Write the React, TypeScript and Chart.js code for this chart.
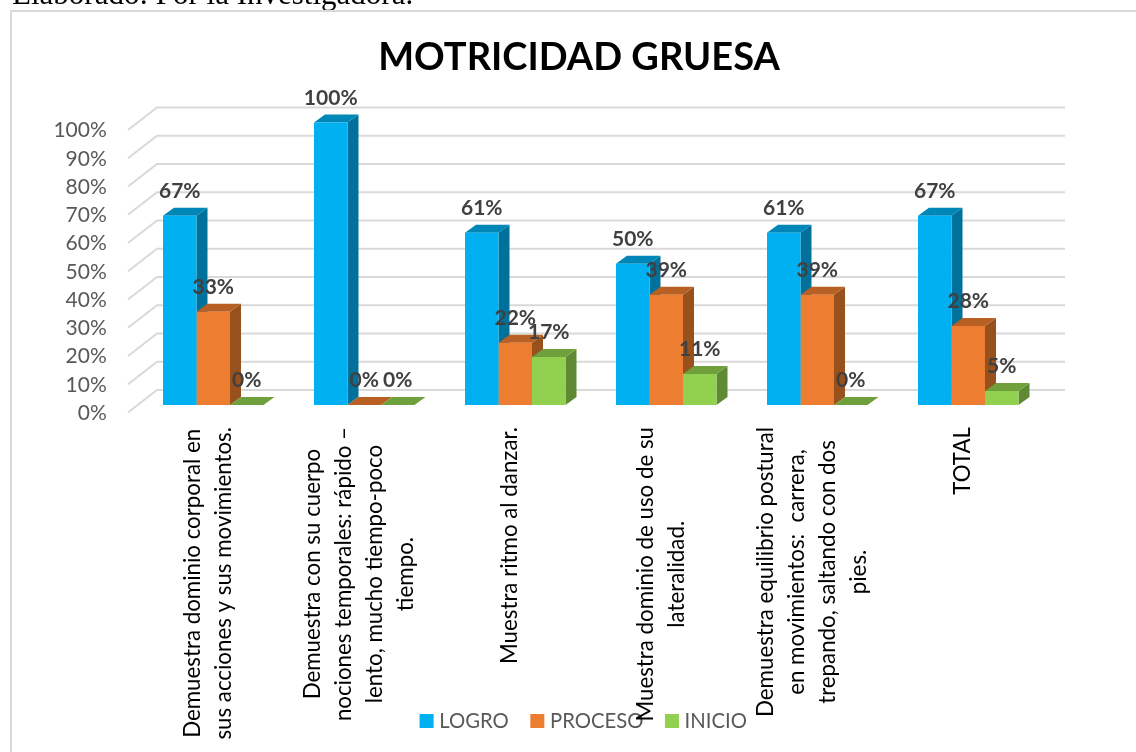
import React, { useEffect, useRef } from "react";
import { Chart, registerables } from "chart.js";

Chart.register(...registerables);

const categories: string[][] = [
  ["Demuestra dominio corporal en", "sus acciones y sus movimientos."],
  ["Demuestra con su cuerpo", "nociones temporales: rápido –", "lento, mucho tiempo-poco", "tiempo."],
  ["Muestra ritmo al danzar."],
  ["Muestra dominio de uso de su", "lateralidad."],
  ["Demuestra equilibrio postural", "en movimientos:  carrera,", "trepando, saltando con dos", "pies."],
  ["TOTAL"],
];
const logro = [67, 100, 61, 50, 61, 67];
const proceso = [33, 0, 22, 39, 39, 28];
const inicio = [0, 0, 17, 11, 0, 5];
const yTicks = [0, 10, 20, 30, 40, 50, 60, 70, 80, 90, 100];
const chartTitle = "MOTRICIDAD GRUESA";
const caption = "Elaborado: Por la Investigadora.";

const FONT = "Lato";
const DEPTH_X = 11;
const DEPTH_Y = 8;
const faceColors = [
  { top: "#0087B8", side: "#00719B" },
  { top: "#B85F24", side: "#98501C" },
  { top: "#70A03C", side: "#5F8A33" },
];

const chart3d = {
  id: "chart3d",
  afterLayout(chart: any) {
    const lg = chart.legend;
    if (lg) {
      const dx = 585.5 - (lg.left + lg.right) / 2;
      const dy = 684.85 - lg.top;
      lg.left += dx; lg.right += dx; lg.top += dy; lg.bottom += dy;
    }
    const t = chart.titleBlock;
    if (t) {
      const dx = 579 - (t.left + t.right) / 2;
      t.left += dx; t.right += dx;
    }
  },
  beforeDraw(chart: any) {
    const { ctx } = chart;
    ctx.save();
    ctx.fillStyle = "#000";
    ctx.font = "31px 'Liberation Serif'";
    ctx.textBaseline = "alphabetic";
    ctx.fillText(caption, 12, 4);
    ctx.strokeStyle = "#D9D9D9";
    ctx.lineWidth = 2;
    ctx.strokeRect(11, 11, 1135, 760);
    ctx.restore();
  },
  beforeDatasetsDraw(chart: any) {
    const { ctx, scales } = chart;
    const y = scales.y;
    ctx.save();
    ctx.strokeStyle = "#D9D9D9";
    ctx.lineWidth = 2;
    for (const v of yTicks) {
      const p = y.getPixelForValue(v);
      ctx.beginPath();
      ctx.moveTo(128, p + 7.5);
      ctx.lineTo(157, p - 15);
      ctx.lineTo(1065, p - 15);
      ctx.stroke();
    }
    chart.data.datasets.forEach((_: any, i: number) => {
      const meta = chart.getDatasetMeta(i);
      const c = faceColors[i];
      meta.data.forEach((bar: any) => {
        const l = bar.x - bar.width / 2;
        const r = bar.x + bar.width / 2;
        const t = bar.y;
        const b = bar.base;
        ctx.fillStyle = c.side;
        ctx.beginPath();
        ctx.moveTo(r, t);
        ctx.lineTo(r + DEPTH_X, t - DEPTH_Y);
        ctx.lineTo(r + DEPTH_X, b - DEPTH_Y);
        ctx.lineTo(r, b);
        ctx.closePath();
        ctx.fill();
        ctx.fillStyle = c.top;
        ctx.beginPath();
        ctx.moveTo(l, t);
        ctx.lineTo(l + DEPTH_X, t - DEPTH_Y);
        ctx.lineTo(r + DEPTH_X, t - DEPTH_Y);
        ctx.lineTo(r, t);
        ctx.closePath();
        ctx.fill();
      });
    });
    ctx.restore();
  },
  afterDatasetsDraw(chart: any) {
    const { ctx, scales } = chart;
    ctx.save();
    // category labels: rotated, each line centred in its block
    ctx.fillStyle = "#000";
    ctx.font = `22.3px ${FONT}`;
    ctx.textAlign = "center";
    ctx.textBaseline = "middle";
    const lineH = 31;
    chart.data.labels.forEach((lines: string[], i: number) => {
      const cx = scales.x.getPixelForValue(i) - 5;
      const maxW = Math.max(...lines.map((s) => ctx.measureText(s).width));
      const blockMid = 427 + maxW / 2;
      lines.forEach((s, k) => {
        ctx.save();
        ctx.translate(cx + (k - (lines.length - 1) / 2) * lineH, blockMid);
        ctx.rotate(-Math.PI / 2);
        ctx.fillText(s, 0, 0);
        ctx.restore();
      });
    });
    // data labels
    ctx.fillStyle = "#404040";
    ctx.font = `bold 21px ${FONT}`;
    chart.data.datasets.forEach((ds: any, i: number) => {
      chart.getDatasetMeta(i).data.forEach((bar: any, j: number) => {
        ctx.fillText(`${ds.data[j]}%`, bar.x, bar.y - 24.5);
      });
    });
    ctx.restore();
  },
};

export default function App() {
  const ref = useRef<HTMLCanvasElement | null>(null);
  useEffect(() => {
    const chart = new Chart(ref.current as HTMLCanvasElement, {
      type: "bar",
      data: {
        labels: categories as any,
        datasets: [
          { label: "LOGRO", data: logro, backgroundColor: "#00B0F0" },
          { label: "PROCESO", data: proceso, backgroundColor: "#ED7D31" },
          { label: "INICIO", data: inicio, backgroundColor: "#92D050" },
        ],
      },
      options: {
        responsive: false,
        animation: false,
        clip: false as any,
        layout: { padding: { left: 37.75, right: 92.25, top: 0, bottom: 0 } },
        datasets: { bar: { categoryPercentage: 0.6656, barPercentage: 1 } },
        scales: {
          x: {
            grid: { display: false, drawTicks: false },
            border: { display: false },
            ticks: { display: false },
            afterFit(s: any) {
              s.height = 347 - (s.chart.legend?.height ?? 72);
            },
          },
          y: {
            min: 0,
            max: 100,
            grid: { display: false, drawTicks: false },
            border: { display: false },
            ticks: {
              stepSize: 10,
              padding: 31,
              labelOffset: 8,
              color: "#595959",
              font: { family: FONT, size: 21 },
              callback: (v: any) => `${v}%`,
            },
            afterFit(s: any) {
              s.width = 100;
            },
          },
        },
        plugins: {
          title: {
            display: true,
            text: chartTitle,
            color: "#000",
            font: { family: FONT, size: 38, weight: "bold" },
            padding: { top: 34.5, bottom: 42.4 },
          },
          legend: {
            position: "bottom",
            labels: {
              boxWidth: 5,
              boxHeight: 5,
              padding: 26,
              color: "#595959",
              font: { family: FONT, size: 20.3 },
              generateLabels(c: any) {
                return Chart.defaults.plugins.legend.labels.generateLabels(c).map((it: any) => ({
                  ...it,
                  lineWidth: 9,
                  strokeStyle: it.fillStyle,
                }));
              },
            },
          },
          tooltip: { enabled: false },
        },
      },
      plugins: [chart3d],
    } as any);
    return () => chart.destroy();
  }, []);
  return (
    <canvas
      ref={ref}
      width={1136}
      height={752}
      style={{ position: "absolute", left: 0, top: 0, display: "block" }}
    />
  );
}
